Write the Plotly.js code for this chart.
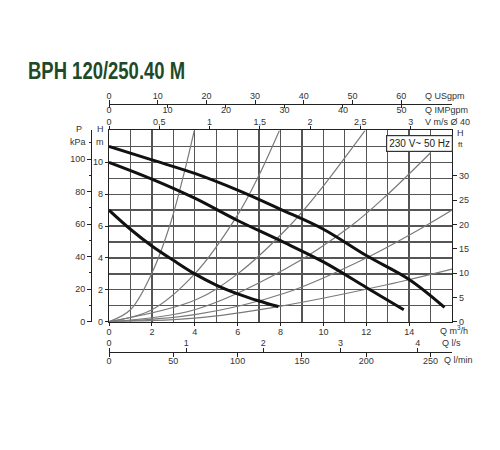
<!DOCTYPE html>
<html>
<head>
<meta charset="utf-8">
<script src="https://cdn.plot.ly/plotly-3.0.1.min.js"></script>
<style>
  html, body { margin: 0; padding: 0; background: #fff; }
  #graph { width: 500px; height: 450px; }
</style>
</head>
<body>
<div id="graph"></div>
<script>
// pump curves (Q m3/h, H m), one per speed
var qTop = [0, 2, 4, 6, 8, 10, 12, 14, 15.65];
var hTop = [11.0, 10.15, 9.3, 8.25, 7.05, 5.8, 4.15, 2.65, 0.9];
var qMid = [0, 2, 4, 6, 8, 10, 12, 13.75];
var hMid = [10.0, 8.95, 7.75, 6.35, 5.08, 3.75, 2.15, 0.75];
var qBot = [0, 1, 2, 3, 4, 5, 6, 7, 7.9];
var hBot = [7.0, 5.8, 4.75, 3.85, 3.0, 2.3, 1.75, 1.3, 0.95];

// thin system curves fanning out of the origin
var sysQ = [
    [0, 1, 2, 2.85, 3.5, 3.98],
    [0, 2, 4, 6, 7, 7.95],
    [0, 4, 6, 8.45, 9.7, 11.95],
    [0, 4, 8.22, 11.33, 12.97, 15],
    [0, 4, 8.22, 12, 14.85, 16],
    [0, 4, 7.9, 12.9, 16]
];
var sysH = [
    [0, 0.75, 3.05, 6.1, 9.3, 12],
    [0, 0.75, 3.0, 6.7, 9.2, 12],
    [0, 1.35, 3.0, 6.05, 8.0, 12],
    [0, 0.75, 3.3, 6.05, 7.95, 10.6],
    [0, 0.44, 1.8, 4.0, 6.08, 7.0],
    [0, 0.22, 0.95, 2.3, 3.3]
];

// tick labels of every scale
var qTicks = [0, 2, 4, 6, 8, 10, 12, 14];
var hTicks = [0, 2, 4, 6, 8, 10];
var ftTicks = [0, 5, 10, 15, 20, 25, 30];
var kpaTicks = [0, 20, 40, 60, 80, 100];
var vTicks = [0, 0.5, 1, 1.5, 2, 2.5, 3];
var vText = ['0', '0,5', '1', '1,5', '2', '2,5', '3'];
var usTicks = [0, 10, 20, 30, 40, 50, 60];
var impTicks = [0, 10, 20, 30, 40, 50];
var lsTicks = [0, 1, 2, 3, 4];
var lminTicks = [0, 50, 100, 150, 200, 250];

// unit conversions for the secondary scales (Q range is 0-16 m3/h, H 0-12 m)
var qMax = 16, hMax = 12;
var vPerQ = 1 / 4.69;        // m/s per m3/h in DN40
var usPerQ = 4.403, impPerQ = 3.666, lsPerQ = 1 / 3.6, lminPerQ = 1000 / 60;
var ftPerM = 3.2808, kpaPerM = 9.81;

// page geometry helpers (px -> paper)
var ML = 40, MR = 48, MT = 20, MB = 40, W = 500, H = 450;
function px(x) { return (x - ML) / (W - ML - MR); }
function py(y) { return (H - MB - y) / (H - MT - MB); }

var font = 'Liberation Sans, Arial, sans-serif';
var txt = '#333';
var gridCol = '#555';

function secAxis(extra) {
    var base = {
        overlaying: 'x', showgrid: false, zeroline: false, showline: true,
        linecolor: '#222', linewidth: 1, ticks: 'outside', ticklen: 4,
        tickcolor: '#222', tickfont: {family: font, size: 9, color: txt},
        tickmode: 'array', fixedrange: true
    };
    return Object.assign(base, extra);
}

var traces = [];
for (var i = 0; i < sysQ.length; i++) {
    traces.push({
        x: sysQ[i], y: sysH[i], type: 'scatter', mode: 'lines',
        line: {color: '#7a7a7a', width: 1.2, shape: 'spline'},
        hoverinfo: 'skip'
    });
}
[[qTop, hTop], [qMid, hMid], [qBot, hBot]].forEach(function(c) {
    traces.push({
        x: c[0], y: c[1], type: 'scatter', mode: 'lines',
        line: {color: '#111', width: 3, shape: 'spline'},
        hoverinfo: 'skip'
    });
});

// invisible carriers so that every secondary scale gets drawn
function carrier(xa, ya, ticks) {
    return {
        x: ticks, y: ticks.map(function() { return null; }),
        xaxis: xa, yaxis: ya, type: 'scatter', mode: 'none', hoverinfo: 'skip'
    };
}
traces.push(carrier('x2', 'y', vTicks));
traces.push(carrier('x3', 'y', usTicks));
traces.push(carrier('x4', 'y', impTicks));
traces.push(carrier('x5', 'y', lsTicks));
traces.push(carrier('x6', 'y', lminTicks));
traces.push({x: ftTicks.map(function() { return null; }), y: ftTicks, xaxis: 'x', yaxis: 'y2', type: 'scatter', mode: 'none', hoverinfo: 'skip'});
traces.push({x: kpaTicks.map(function() { return null; }), y: kpaTicks, xaxis: 'x', yaxis: 'y3', type: 'scatter', mode: 'none', hoverinfo: 'skip'});

function note(text, x, y, anchor, size) {
    return {
        text: text, xref: 'paper', yref: 'paper', x: px(x), y: py(y),
        xanchor: anchor || 'left', yanchor: 'middle', showarrow: false,
        font: {family: font, size: size || 9, color: txt}
    };
}

var layout = {
    width: W, height: H,
    margin: {l: ML, r: MR, t: MT, b: MB},
    paper_bgcolor: '#fff', plot_bgcolor: '#fff',
    showlegend: false,
    title: {
        text: '<b>BPH 120/250.40 M</b>',
        xref: 'container', yref: 'container', x: 28 / W, y: 1 - 71 / H,
        xanchor: 'left', yanchor: 'middle',
        font: {family: 'Liberation Sans, Arial, sans-serif', size: 24, color: '#1e4a28'}
    },
    xaxis: {
        domain: [px(109), 1], range: [0, qMax], tickmode: 'array', tickvals: qTicks,
        showline: true, linecolor: '#222', linewidth: 1.2, ticks: 'outside', ticklen: 3, tickcolor: '#222',
        ticklabelstandoff: -2,
        showgrid: true, gridcolor: gridCol, gridwidth: 1.3, zeroline: false,
        minor: {tickmode: 'linear', tick0: 0, dtick: 1, showgrid: true, gridcolor: gridCol, gridwidth: 1.3, ticks: ''},
        tickfont: {family: font, size: 9, color: txt}, fixedrange: true
    },
    yaxis: {
        domain: [py(321.7), py(130.4)], range: [0, hMax], tickmode: 'array', tickvals: hTicks,
        showline: true, linecolor: '#222', linewidth: 1.2, ticks: 'outside', ticklen: 3, tickcolor: '#222',
        showgrid: true, gridcolor: gridCol, gridwidth: 1.3, zeroline: false,
        minor: {tickmode: 'linear', tick0: 0, dtick: 1, showgrid: true, gridcolor: gridCol, gridwidth: 1.3, ticks: ''},
        tickfont: {family: font, size: 9, color: txt}, fixedrange: true
    },
    // V m/s on the top frame
    xaxis2: secAxis({side: 'top', anchor: 'y', range: [0, qMax * vPerQ], tickvals: vTicks, ticktext: vText, linewidth: 1.2, ticklen: 3, ticklabelstandoff: -2}),
    // USgpm above / IMPgpm below the same line
    xaxis3: secAxis({side: 'top', anchor: 'free', position: py(104), range: [0, qMax * usPerQ], tickvals: usTicks, ticklabelstandoff: -3}),
    xaxis4: secAxis({side: 'bottom', anchor: 'free', position: py(104), range: [0, qMax * impPerQ], tickvals: impTicks, ticklen: 3, ticklabelstandoff: -6}),
    // l/s above / l/min below the bottom line
    xaxis5: secAxis({side: 'top', anchor: 'free', position: py(352), range: [0, qMax * lsPerQ], tickvals: lsTicks, ticklabelstandoff: -2}),
    xaxis6: secAxis({side: 'bottom', anchor: 'free', position: py(352), range: [0, qMax * lminPerQ], tickvals: lminTicks, ticklabelstandoff: -4}),
    yaxis2: {
        overlaying: 'y', side: 'right', anchor: 'x', range: [0, hMax * ftPerM],
        tickmode: 'array', tickvals: ftTicks, showgrid: false, zeroline: false,
        showline: true, linecolor: '#222', linewidth: 1.2, ticks: 'outside', ticklen: 4, tickcolor: '#222',
        tickfont: {family: font, size: 9, color: txt}, fixedrange: true
    },
    yaxis3: {
        overlaying: 'y', side: 'left', anchor: 'free', position: px(91), range: [0, hMax * kpaPerM],
        tickmode: 'array', tickvals: kpaTicks, showgrid: false, zeroline: false,
        showline: true, linecolor: '#222', linewidth: 1.2, ticks: 'outside', ticklen: 4, tickcolor: '#222',
        minor: {tickmode: 'linear', tick0: 0, dtick: 10, ticks: 'outside', ticklen: 2, tickcolor: '#222'},
        tickfont: {family: font, size: 9, color: txt}, fixedrange: true
    },
    annotations: [
        note('Q USgpm', 423, 96),
        note('Q IMPgpm', 423, 110),
        note('V m/s Ø 40', 423, 122),
        note('H', 455, 133),
        note('ft', 456, 144, 'left', 8),
        note('P', 79, 129, 'center'),
        note('kPa', 78, 142, 'center'),
        note('H', 100, 129, 'center'),
        note('m', 100, 142, 'center'),
        note('Q m<sup>3</sup>/h', 438, 330),
        note('Q l/s', 440, 343),
        note('Q l/min', 442, 360),
        {
            text: '230 V~ 50 Hz', xref: 'paper', yref: 'paper', x: px(419.5), y: py(143.5),
            xanchor: 'center', yanchor: 'middle', showarrow: false,
            bgcolor: '#fff', bordercolor: '#333', borderwidth: 1.2, borderpad: 2,
            font: {family: font, size: 10, color: '#222'}
        }
    ]
};

Plotly.newPlot('graph', traces, layout, {staticPlot: true, displayModeBar: false}).then(function() {
    // the original title face is a condensed bold; squeeze the text about its left edge
    var t = document.querySelector('.gtitle');
    if (t) {
        var x0 = 28;
        var prev = t.getAttribute('transform') || '';
        t.setAttribute('transform', prev + ' translate(' + x0 + ',0) scale(0.77,1) translate(' + (-x0) + ',0)');
    }
});
</script>
</body>
</html>
